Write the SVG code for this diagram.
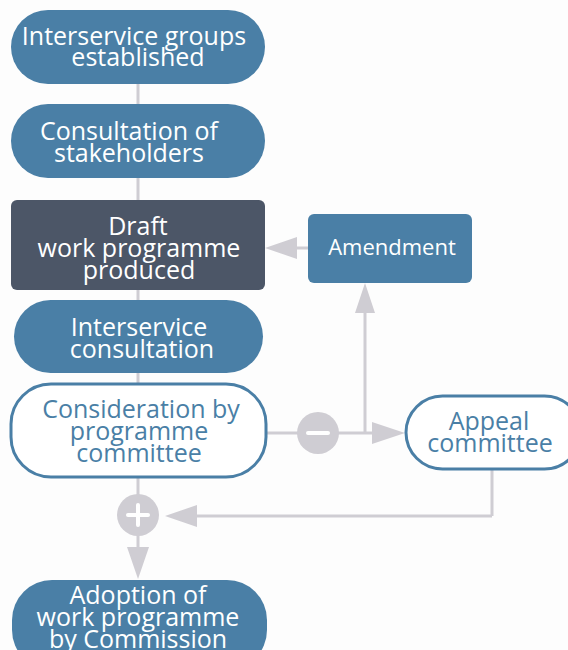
<svg xmlns="http://www.w3.org/2000/svg" width="568" height="650" viewBox="0 0 568 650">
<style>
.blue{fill:#4a7fa6}
.dark{fill:#4c5667}
.out{fill:#ffffff;stroke:#4a7fa6;stroke-width:3}
.t{font-family:"Open Sans","Liberation Sans",sans-serif;font-size:25px;text-anchor:middle}
.w{fill:#ffffff}
.b{fill:#4a7fa6}
.con{stroke:#cfcdd3;stroke-width:3;fill:none}
.head{fill:#cfcdd3}
.sym{stroke:#ffffff;stroke-width:4;stroke-linecap:round}
</style>
<rect width="568" height="650" fill="#fdfdfd"/>
<g id="connectors">
<line class="con" x1="138" y1="84" x2="138" y2="104"/>
<line class="con" x1="138" y1="178" x2="138" y2="200"/>
<line class="con" x1="138" y1="290" x2="138" y2="300"/>
<line class="con" x1="138" y1="373" x2="138" y2="384"/>
<line class="con" x1="297" y1="248" x2="308" y2="248"/>
<polygon class="head" points="265,248 297,237 297,259"/>
<line class="con" x1="267" y1="433" x2="372" y2="433"/>
<polygon class="head" points="405,433 372,422 372,444"/>
<line class="con" x1="365" y1="433" x2="365" y2="313"/>
<polygon class="head" points="365,283 355,313 375,313"/>
<line class="con" x1="492" y1="470" x2="492" y2="516"/>
<line class="con" x1="492" y1="516" x2="197" y2="516"/>
<polygon class="head" points="165,516 197,505 197,527"/>
<line class="con" x1="138" y1="478" x2="138" y2="548"/>
<polygon class="head" points="138,579 127,547 149,547"/>
<circle class="head" cx="318" cy="433" r="21"/>
<line class="sym" x1="308" y1="433" x2="328" y2="433"/>
<circle class="head" cx="138" cy="515" r="21"/>
<line class="sym" x1="128" y1="515" x2="148" y2="515"/>
<line class="sym" x1="138" y1="505" x2="138" y2="525"/>
</g>
<g id="n1">
<rect class="blue" x="11" y="10" width="254" height="74" rx="37"/>
<text class="t w" x="134" y="45">Interservice groups</text>
<text class="t w" x="138" y="66">established</text>
</g>
<g id="n2">
<rect class="blue" x="11" y="104" width="254" height="74" rx="37"/>
<text class="t w" x="129" y="140">Consultation of</text>
<text class="t w" x="129" y="162">stakeholders</text>
</g>
<g id="n3">
<rect class="dark" x="11" y="200" width="254" height="90" rx="6"/>
<text class="t w" x="138" y="235">Draft</text>
<text class="t w" x="139" y="257">work programme</text>
<text class="t w" x="139" y="279">produced</text>
</g>
<g id="n4">
<rect class="blue" x="308" y="214" width="164" height="69" rx="6"/>
<text class="t w" x="392" y="255" style="font-size:22px">Amendment</text>
</g>
<g id="n5">
<rect class="blue" x="14" y="300" width="249" height="73" rx="36.5"/>
<text class="t w" x="139" y="336">Interservice</text>
<text class="t w" x="142" y="358">consultation</text>
</g>
<g id="n6">
<rect class="out" x="11" y="384" width="255" height="93" rx="40"/>
<text class="t b" x="141" y="418">Consideration by</text>
<text class="t b" x="139" y="440">programme</text>
<text class="t b" x="139" y="462">committee</text>
</g>
<g id="n7">
<rect class="out" x="406" y="396" width="175" height="73" rx="36.5"/>
<text class="t b" x="489" y="430">Appeal</text>
<text class="t b" x="490" y="452">committee</text>
</g>
<g id="n8">
<rect class="blue" x="12" y="580" width="255" height="90" rx="40"/>
<text class="t w" x="138" y="604">Adoption of</text>
<text class="t w" x="138" y="626">work programme</text>
<text class="t w" x="138" y="648">by Commission</text>
</g>
</svg>
